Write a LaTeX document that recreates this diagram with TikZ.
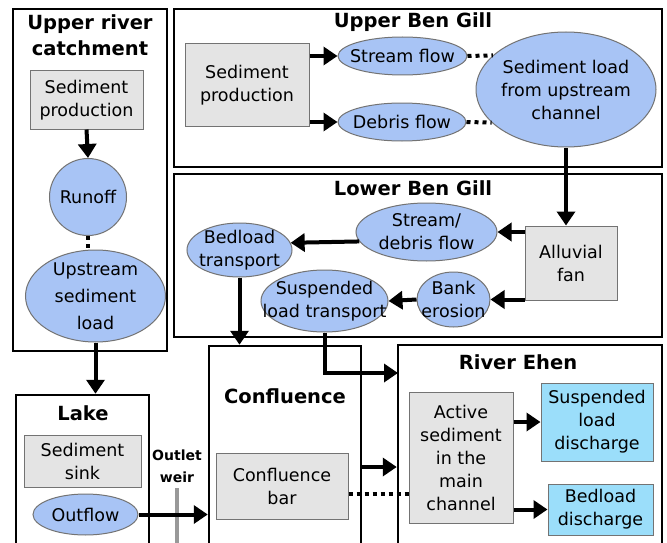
\documentclass[tikz,border=0pt]{standalone}
\usepackage{fontspec}
\setmainfont{DejaVu Sans}
\usetikzlibrary{arrows.meta,shapes.geometric,calc}
\definecolor{ebblue}{RGB}{168,196,245}
\definecolor{ebcyan}{RGB}{155,222,250}
\definecolor{ebgray}{RGB}{228,228,228}
\newcommand\ebtext{\fontsize{17.5}{23}\selectfont}
\newcommand\ebtitle{\fontsize{19.5}{26}\selectfont\bfseries}
\newcommand\ebsmall{\fontsize{14}{22}\selectfont\bfseries}
\tikzset{
  frame/.style={draw=black, line width=2.5pt, inner sep=0pt, fill=white},
  graybox/.style={draw=black!55, line width=1pt, fill=ebgray, align=center, font=\ebtext, inner sep=0pt},
  cyanbox/.style={draw=black!55, line width=1pt, fill=ebcyan, align=center, font=\ebtext, inner sep=0pt},
  blueell/.style={ellipse, draw=black!55, line width=1pt, fill=ebblue, align=center, font=\ebtext, inner xsep=-60pt, inner ysep=-40pt},
  ttl/.style={font=\ebtitle, align=center, inner sep=0pt},
  flow/.style={line width=4pt, -{Triangle[length=14pt,width=18pt]}},
  dotline/.style={line width=4pt, dash pattern=on 4pt off 4pt},
  weirline/.style={line width=4pt, draw=black!40}
}
\begin{document}
\begin{tikzpicture}[x=1pt,y=-1pt]
\useasboundingbox (0,0) rectangle (667,543);
\clip (0,0) rectangle (667,543);
\fill[white] (0,0) rectangle (667,543);

% frames
\node[frame, minimum width=154pt, minimum height=342pt] (urcbox) at (90,180) {};
\node[frame, minimum width=488pt, minimum height=158pt] (ubgbox) at (418,88) {};
\node[frame, minimum width=488pt, minimum height=163pt] (lbgbox) at (418,255.5) {};
\node[frame, minimum width=133pt, minimum height=165pt] (lakebox) at (82.5,477.5) {};
\node[frame, minimum width=152pt, minimum height=214pt] (confbox) at (285,453) {};
\node[frame, minimum width=264pt, minimum height=215pt] (rebox) at (530,452.5) {};

% titles
\node[ttl] (urctitle) at (90,35) {Upper river\\catchment};
\node[ttl] (ubgtitle) at (413,22) {Upper Ben Gill};
\node[ttl] (lbgtitle) at (413,188) {Lower Ben Gill};
\node[ttl] (laketitle) at (83,413) {Lake};
\node[ttl] (conftitle) at (285,396) {Confluence};
\node[ttl] (retitle) at (518,362) {River Ehen};
\node[font=\ebsmall, align=center, inner sep=0pt] (weirtitle) at (177,466) {Outlet\\weir};

% upper river catchment
\node[graybox, minimum width=113pt, minimum height=58pt] (sp1) at (86.5,100) {Sediment\\production};
\node[blueell, minimum width=77pt, minimum height=77pt] (runoff) at (88,197) {Runoff};
\node[blueell, minimum width=140pt, minimum height=92pt, font=\fontsize{17.5}{27}\selectfont] (usl) at (95.5,296) {Upstream\\sediment\\load};

% lake
\node[graybox, minimum width=117pt, minimum height=52pt] (sink) at (82.5,461) {Sediment\\sink};
\node[blueell, minimum width=105pt, minimum height=41pt] (outflow) at (85.5,514.5) {Outflow};

% confluence
\node[graybox, minimum width=132pt, minimum height=66pt] (confbar) at (282,486) {Confluence\\bar};

% upper ben gill
\node[graybox, minimum width=124pt, minimum height=82pt] (sp2) at (247,85) {Sediment\\production};
\node[blueell, minimum width=129pt, minimum height=38pt] (sflow) at (402.5,56) {Stream flow};
\node[blueell, minimum width=128pt, minimum height=38pt] (dflow) at (402,122) {Debris flow};
\node[blueell, minimum width=180pt, minimum height=115pt] (sload) at (566,89.5) {Sediment load\\from upstream\\channel};

% lower ben gill
\node[blueell, minimum width=141pt, minimum height=58pt] (sdflow) at (426.5,232) {Stream/\\debris flow};
\node[blueell, minimum width=105pt, minimum height=54pt] (bedt) at (239.5,250) {Bedload\\transport};
\node[graybox, minimum width=92pt, minimum height=74pt] (fan) at (571,263) {Alluvial\\fan};
\node[blueell, minimum width=73pt, minimum height=55pt] (bank) at (453.5,299.5) {Bank\\erosion};
\node[blueell, minimum width=127pt, minimum height=62pt] (suspt) at (324.5,301) {Suspended\\load transport};

% river ehen
\node[graybox, minimum width=104pt, minimum height=131pt] (active) at (461,457.5) {Active\\sediment\\in the\\main\\channel};
\node[cyanbox, minimum width=112pt, minimum height=78pt] (sld) at (597,422) {Suspended\\load\\discharge};
\node[cyanbox, minimum width=105pt, minimum height=51pt] (bld) at (600.5,509.5) {Bedload\\discharge};

% weir
\draw[weirline] (177,488) -- (177,545);

% connectors
\draw[flow] (sp1.south) -- (runoff.north);
\draw[dotline] (runoff.south) -- (runoff.south |- usl.north);
\draw[flow] (usl.south) -- (usl.south |- lakebox.north);
\draw[flow] (outflow.east) -- (outflow.east -| confbox.west);

\draw[flow] (sp2.east |- sflow.west) -- (sflow.west);
\draw[flow] (sp2.east |- dflow.west) -- (dflow.west);
\draw[dotline] (sflow.east) -- (sload.155);
\draw[dotline] (dflow.east) -- (sload.204);
\draw[flow] (sload.south) -- (sload.south |- fan.north);

\draw[flow] (fan.west |- sdflow.east) -- (sdflow.east);
\draw[flow] (fan.west |- bank.east) -- (bank.east);
\draw[flow] (bank.west) -- (suspt.east);
\draw[flow] (sdflow.188) -- (bedt.8);
\draw[flow] (bedt.south) -- (bedt.south |- confbox.north);

\coordinate (reIn1) at (398,373);
\coordinate (confOut) at (361,467);
\draw[flow] (suspt.south) |- (reIn1);
\draw[flow] (confOut) -- (confOut -| rebox.west);
\draw[dotline] ([yshift=-8pt]confbar.east) -- ([yshift=-8pt]confbar.east -| active.west);
\draw[flow] (active.east |- sld.west) -- (sld.west);
\draw[flow] (active.east |- bld.west) -- (bld.west);
\end{tikzpicture}
\end{document}
